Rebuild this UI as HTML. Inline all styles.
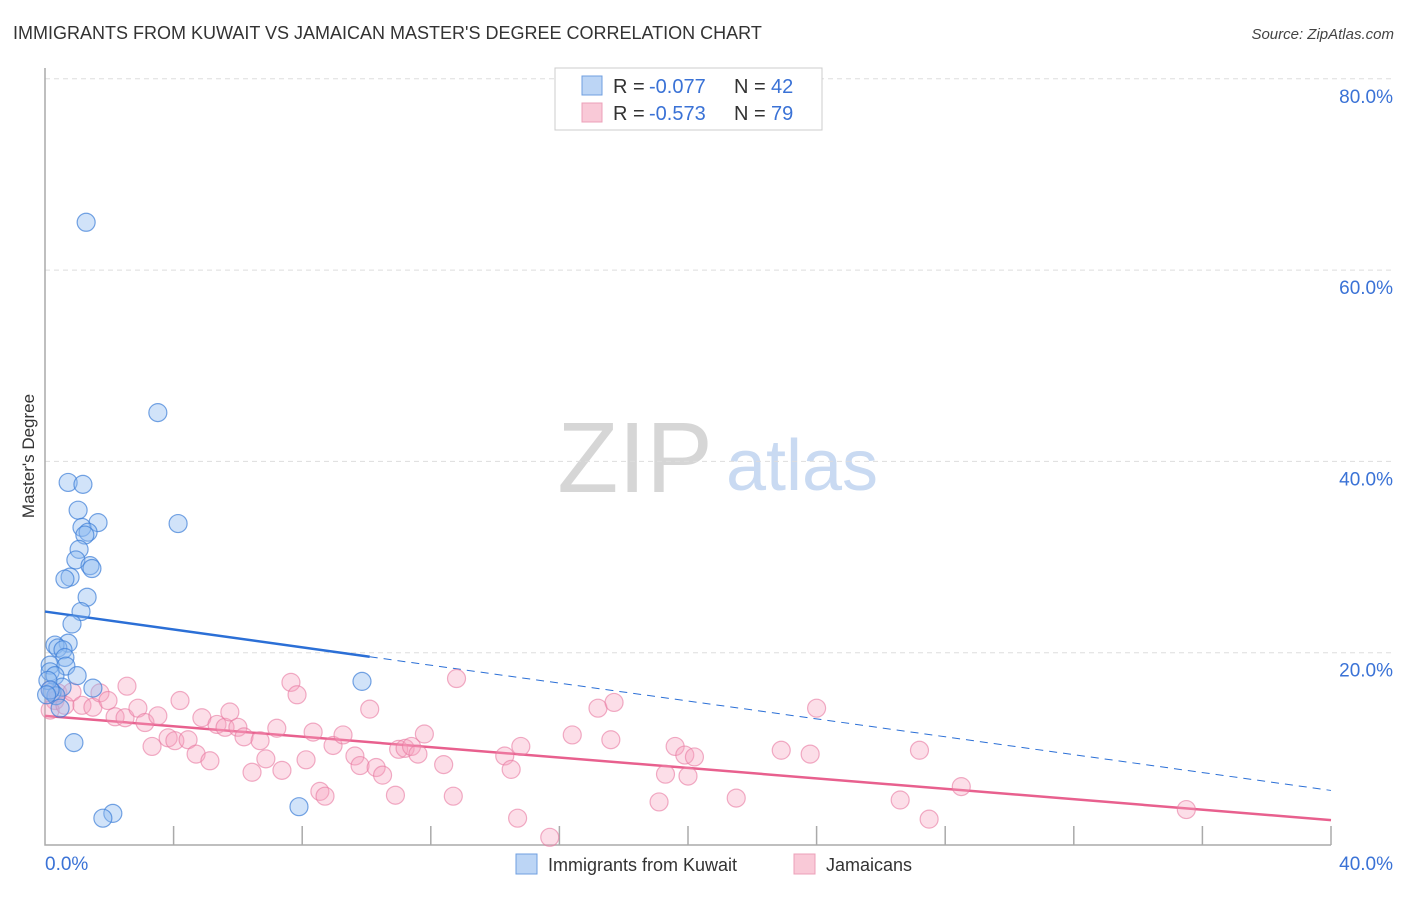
<!DOCTYPE html>
<html><head><meta charset="utf-8"><style>
body{margin:0;background:#fff;font-family:"Liberation Sans",sans-serif}
svg text{font-family:"Liberation Sans",sans-serif}
</style></head><body>
<svg id="chart" width="1406" height="892" viewBox="0 0 1406 892" xmlns="http://www.w3.org/2000/svg">
<text x="13" y="39" font-size="18" fill="#333">IMMIGRANTS FROM KUWAIT VS JAMAICAN MASTER'S DEGREE CORRELATION CHART</text>
<text x="1394" y="39" font-size="15" fill="#444" text-anchor="end" font-style="italic">Source: ZipAtlas.com</text>
<g>
<text x="635" y="492" font-size="100" fill="#d6d6d6" font-family="Liberation Serif" text-anchor="middle">ZIP</text>
<text x="802" y="490" font-size="72" fill="#c9daf2" text-anchor="middle">atlas</text>
</g>
<g id="grid"></g>
<g id="axes"></g>
<g id="lines"></g>
<g id="points"></g>
<text transform="translate(34,456) rotate(-90)" font-size="17" fill="#333" text-anchor="middle">Master's Degree</text>
<g>
<rect x="555" y="68" width="267" height="62" fill="#fff" stroke="#ccc"/>
<rect x="582" y="76" width="20" height="19" fill="#bcd5f5" stroke="#6f9fe0"/>
<rect x="582" y="103" width="20" height="19" fill="#f9c9d7" stroke="#eca0b8"/>
<text x="613" y="93" font-size="20" fill="#333">R =</text>
<text x="649" y="93" font-size="20" fill="#3a72d6">-0.077</text>
<text x="734" y="93" font-size="20" fill="#333">N =</text>
<text x="771" y="93" font-size="20" fill="#3a72d6">42</text>
<text x="613" y="120" font-size="20" fill="#333">R =</text>
<text x="649" y="120" font-size="20" fill="#3a72d6">-0.573</text>
<text x="734" y="120" font-size="20" fill="#333">N =</text>
<text x="771" y="120" font-size="20" fill="#3a72d6">79</text>
</g>
<g>
<rect x="516" y="854" width="21" height="20" fill="#bcd5f5" stroke="#6f9fe0"/>
<text x="548" y="871" font-size="18" fill="#333">Immigrants from Kuwait</text>
<rect x="794" y="854" width="21" height="20" fill="#f9c9d7" stroke="#eca0b8"/>
<text x="826" y="871" font-size="18" fill="#333">Jamaicans</text>
</g>
</svg>
<script>
const blueX=[1.28,3.51,0.72,1.18,1.03,1.65,4.14,1.15,1.34,1.24,1.06,0.96,1.40,1.46,0.78,0.62,1.31,1.12,0.84,0.72,0.31,0.40,0.56,0.62,0.16,0.65,0.16,0.31,1.0,0.53,1.49,9.86,0.22,0.34,0.47,0.90,2.11,1.80,7.9,0.09,0.16,0.05];
const blueY=[65.0,45.1,37.8,37.6,34.9,33.6,33.5,33.1,32.6,32.3,30.8,29.7,29.1,28.8,27.9,27.7,25.8,24.3,23.0,21.0,20.8,20.5,20.3,19.5,18.7,18.6,18.0,17.6,17.6,16.4,16.3,17.0,15.9,15.5,14.2,10.6,3.2,2.7,3.9,17.1,16.1,15.6];
const pinkX=[0.16,0.31,0.16,0.4,0.62,0.84,1.15,1.49,1.71,1.96,2.18,2.49,2.55,2.89,3.11,3.33,3.51,3.83,4.04,4.20,4.45,4.70,4.88,5.13,5.35,5.60,5.75,6.00,6.19,6.44,6.69,6.87,7.21,7.37,7.65,7.84,8.12,8.34,8.55,8.71,8.96,9.27,9.64,9.80,10.1,10.3,10.5,10.9,11.0,11.2,11.4,11.6,11.8,12.4,12.7,12.8,14.3,14.5,14.7,14.8,15.7,16.4,17.2,17.7,17.6,19.1,19.3,19.6,19.9,20.0,20.2,21.5,22.9,23.8,24.0,26.6,27.2,27.5,28.5,35.5];
const pinkY=[16.1,15.0,14.0,15.8,14.5,15.9,14.5,14.3,15.8,15.0,13.3,13.2,16.5,14.2,12.7,10.2,13.4,11.1,10.8,15.0,10.9,9.4,13.2,8.7,12.5,12.2,13.8,12.2,11.2,7.5,10.8,8.9,12.1,7.7,16.9,15.6,8.8,11.7,5.5,5.0,10.3,11.4,9.2,8.2,14.1,8.0,7.2,5.1,9.9,10.0,10.2,9.4,11.5,8.3,5.0,17.3,9.2,7.8,2.7,10.2,0.7,11.4,14.2,14.8,10.9,4.4,7.3,10.2,9.3,7.1,9.1,4.8,9.8,9.4,14.2,4.6,9.8,2.6,6.0,3.6];
const yTicks=[20,40,60,80];
const yTickLabels=["20.0%","40.0%","60.0%","80.0%"];
const xTickLabels=["0.0%","40.0%"];
const blueTrend=[24.3,5.6];
const blueSolidEnd=10.1;
const pinkTrend=[13.4,2.5];

const NS="http://www.w3.org/2000/svg";
const X0=45,X1=1331,Y0=844,PXPER=191.3/20;
const sx=v=>X0+(v/40)*(X1-X0);
const sy=v=>Y0-v*PXPER;
function mk(tag,attrs,parent){const e=document.createElementNS(NS,tag);for(const k in attrs)e.setAttribute(k,attrs[k]);parent.appendChild(e);return e;}
const grid=document.getElementById('grid'),axes=document.getElementById('axes'),lines=document.getElementById('lines'),pts=document.getElementById('points');
yTicks.forEach((t,i)=>{
 const l=mk('line',{x1:X0,x2:1393,y1:sy(t),y2:sy(t),stroke:'#ddd','stroke-dasharray':'5,4'},grid);
 
 
 const tx=mk('text',{x:1393,y:sy(t)+24,'font-size':19,fill:'#3a72d6','text-anchor':'end'},grid);
 tx.textContent=yTickLabels[i];
 
 
});
const ax=mk('path',{d:`M${X0} 68 V845 H${X1}`,stroke:'#aaa',fill:'none','stroke-width':1.5},axes);


for(let v=4;v<=40;v+=4){
 const tk=mk('line',{x1:sx(v),x2:sx(v),y1:826,y2:845,stroke:'#aaa','stroke-width':1.5},axes);
 
 
}
[[0,'start',45],[40,'end',1393]].forEach((a,i)=>{
 const t=mk('text',{x:a[2],y:870,'font-size':19,fill:'#3a72d6','text-anchor':a[1]},axes);
 t.textContent=xTickLabels[i];
 
 
});
const by=x=>blueTrend[0]+(blueTrend[1]-blueTrend[0])*x/40;
const py=x=>pinkTrend[0]+(pinkTrend[1]-pinkTrend[0])*x/40;
function drawPts(xs,ys,fill,stroke,name){xs.forEach((x,i)=>{
 const c=mk('circle',{cx:sx(x),cy:sy(ys[i]),r:9,fill:fill,stroke:stroke,'stroke-width':1.2},pts);
 
 
});}
drawPts(pinkX,pinkY,'rgba(245,160,188,0.35)','rgba(232,120,160,0.6)','point-jamaican');
drawPts(blueX,blueY,'rgba(140,185,240,0.4)','rgba(60,125,215,0.7)','point-kuwait');
let l1=mk('line',{x1:sx(0),y1:sy(by(0)),x2:sx(blueSolidEnd),y2:sy(by(blueSolidEnd)),stroke:'#2b6fd6','stroke-width':2.5},lines);


let l2=mk('line',{x1:sx(blueSolidEnd),y1:sy(by(blueSolidEnd)),x2:sx(40),y2:sy(by(40)),stroke:'#2b6fd6','stroke-width':1,'stroke-dasharray':'8,6'},lines);


let l3=mk('line',{x1:sx(0),y1:sy(py(0)),x2:sx(40),y2:sy(py(40)),stroke:'#e8608e','stroke-width':2.5},lines);


</script>
</body></html>
